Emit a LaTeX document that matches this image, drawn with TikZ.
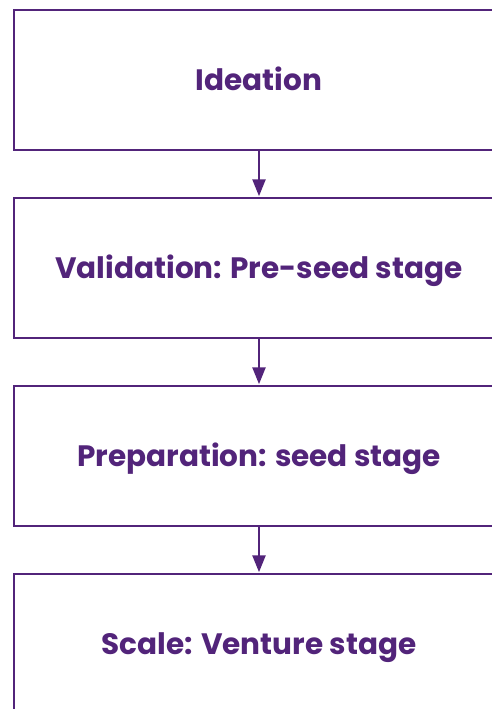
\documentclass[tikz,border=0pt]{standalone}
\usepackage{fontspec}
\setmainfont{Poppins}[BoldFont={* Bold}]
\usetikzlibrary{arrows.meta}
\definecolor{stagepurple}{RGB}{82,36,122}
\begin{document}
\begin{tikzpicture}[x=1pt,y=-1pt,
  stagebox/.style={draw=stagepurple, line width=2.5pt, minimum width=490pt, minimum height=140pt,
    inner sep=0pt, text height=20.6pt, text depth=0pt, text=stagepurple,
    font=\bfseries\fontsize{29.5}{34}\selectfont},
  flowarrow/.style={draw=stagepurple, line width=2.5pt, -{Triangle[width=13pt,length=17pt]}, shorten >=0.5pt}]
\useasboundingbox (0,0) rectangle (492,709);
\clip (0,0) rectangle (492,709);
\node[stagebox] (b1) at (259,80) {Ideation};
\node[stagebox] (b2) at (259,268) {Validation: Pre-seed stage};
\node[stagebox] (b3) at (259,456) {Preparation: seed stage};
\node[stagebox] (b4) at (259,644) {Scale: Venture stage};
\draw[flowarrow] (b1.south) -- (b2.north);
\draw[flowarrow] (b2.south) -- (b3.north);
\draw[flowarrow] (b3.south) -- (b4.north);
\end{tikzpicture}
\end{document}
